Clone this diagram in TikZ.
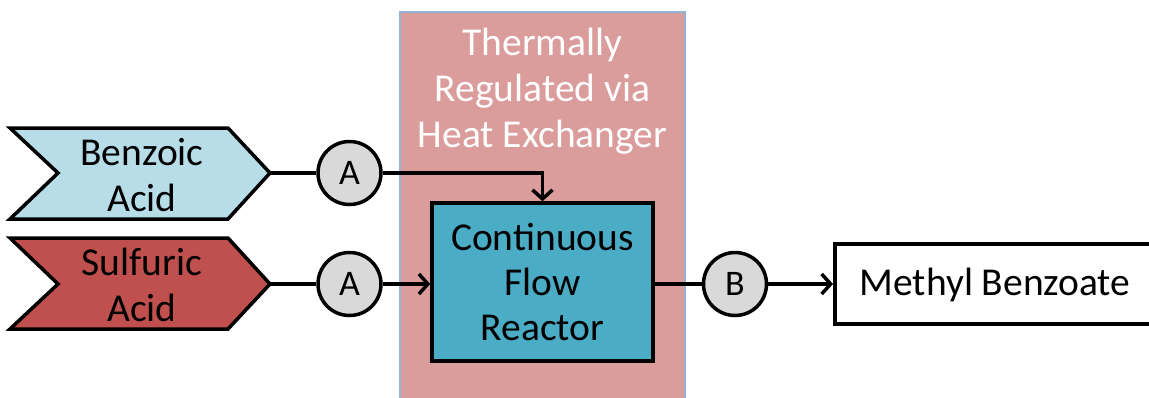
\documentclass[tikz,border=0pt]{standalone}
\usepackage{fontspec}
\setmainfont{Carlito}
\usetikzlibrary{arrows.meta}
\definecolor{benzfill}{RGB}{183,221,232}
\definecolor{sulffill}{RGB}{192,80,77}
\definecolor{heatfill}{RGB}{219,156,156}
\definecolor{heatedge}{RGB}{149,179,215}
\definecolor{reactfill}{RGB}{75,172,198}
\definecolor{pumpfill}{RGB}{217,217,217}
\tikzset{
  lbl/.style={font=\fontsize{39.5}{46}\selectfont, align=center, inner sep=0pt},
  chevron/.style={draw=black, line width=3.5pt, line join=miter},
  pump/.style={circle, draw=black, line width=3.5pt, fill=pumpfill, minimum size=63pt, inner sep=0pt, font=\fontsize{36}{40}\selectfont},
  pipe/.style={line width=3.5pt},
  flow/.style={line width=3.5pt, -{Straight Barb[length=9pt,width=20pt,line width=3.5pt]}},
  boxnode/.style={rectangle, draw=black, line width=3.5pt, align=center, font=\fontsize{39.5}{45}\selectfont, inner sep=0pt}
}
\begin{document}
\begin{tikzpicture}[x=1pt,y=-1pt]
\useasboundingbox (0,0) rectangle (1149,397);
% heat exchanger region
\draw[fill=heatfill, draw=heatedge, line width=1.2pt] (400,12) rectangle (685,402);
\node[lbl, text=white] (heat) at (542.5,91) {Thermally\\Regulated via\\Heat Exchanger};
% chevrons
\draw[chevron, fill=benzfill] (10,128) -- (228,128) -- (270,173) -- (228,219) -- (10,219) -- (58,173) -- cycle;
\coordinate (benztip) at (270,173);
\node[lbl] (benz) at (142,175) {Benzoic\\Acid};
\draw[chevron, fill=sulffill] (10,238) -- (228,238) -- (270,284) -- (228,329) -- (10,329) -- (58,284) -- cycle;
\coordinate (sulftip) at (270,284);
\node[lbl] (sulf) at (142,285) {Sulfuric\\Acid};
% pumps
\node[pump] (a1) at (349.5,173) {A};
\node[pump] (a2) at (349.5,284) {A};
% reactor
\node[boxnode, fill=reactfill, minimum width=221pt, minimum height=158pt] (reactor) at (542.5,282) {Continuous\\Flow\\Reactor};
\node[pump] (b) at (735,284) {B};
\node[boxnode, fill=white, minimum width=330pt, minimum height=80pt, anchor=west] (methyl) at (833,284) {};
\node[lbl] (methyltext) at (995,285) {Methyl Benzoate};
% connectors
\draw[pipe] (benztip) -- (a1.west);
\draw[pipe] (sulftip) -- (a2.west);
\draw[flow] (a1.east) -| (reactor.north);
\draw[flow] (a2.east) -- (a2.east -| reactor.west);
\draw[pipe] (reactor.east |- b.west) -- (b.west);
\draw[flow] (b.east) -- (methyl.west);
\end{tikzpicture}
\end{document}
